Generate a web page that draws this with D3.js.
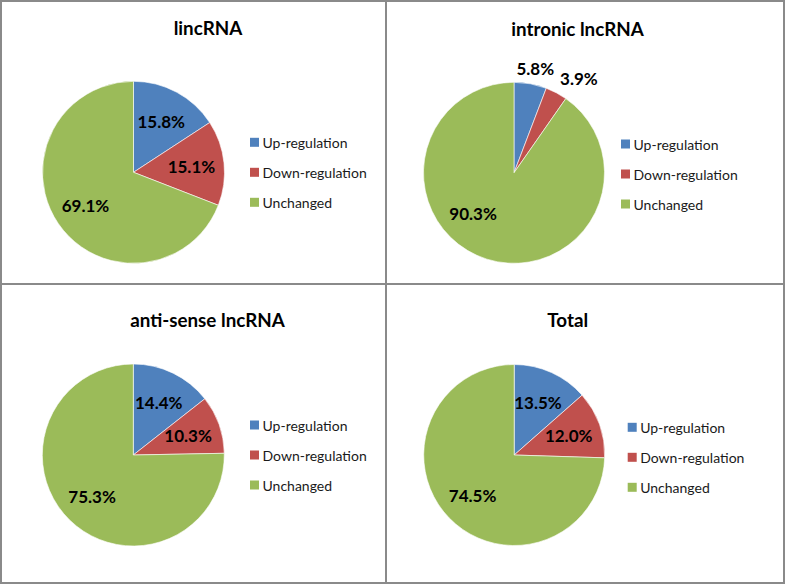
<!DOCTYPE html>
<html>
<head>
<meta charset="utf-8">
<script src="https://cdn.jsdelivr.net/npm/d3@7/dist/d3.min.js"></script>
<style>
  html, body { margin: 0; padding: 0; background: #ffffff; }
  svg { display: block; }
</style>
</head>
<body>
<div id="chart"></div>
<script>
// ---- data ----
const panelTitles = ["lincRNA", "intronic lncRNA", "anti-sense lncRNA", "Total"];
const categories = ["Up-regulation", "Down-regulation", "Unchanged"];
const upValues = [15.8, 5.8, 14.4, 13.5];
const downValues = [15.1, 3.9, 10.3, 12.0];
const unchangedValues = [69.1, 90.3, 75.3, 74.5];

// ---- style / layout ----
const W = 787, H = 585;
const colors = ["#4F81BD", "#C0504D", "#9BBB59"];
const fontFamily = "Lato, 'Open Sans', 'Liberation Sans', sans-serif";
const layout = [
  { cx: 133.5, cy: 172.3, r: 91,   titleX: 208,   titleY: 35,    legX: 250,   legY: 172.3 },
  { cx: 514,   cy: 172.8, r: 90.5, titleX: 577.5, titleY: 36,    legX: 621,   legY: 174 },
  { cx: 133.3, cy: 455,   r: 91,   titleX: 207.5, titleY: 326.7, legX: 250,   legY: 455 },
  { cx: 514.2, cy: 455,   r: 90.5, titleX: 567.7, titleY: 326.7, legX: 627.7, legY: 457.3 }
];

const svg = d3.select("#chart").append("svg")
  .attr("width", W).attr("height", H)
  .attr("viewBox", `0 0 ${W} ${H}`);

svg.append("rect").attr("width", W).attr("height", H).attr("fill", "#fff");

// frame lines
const frame = svg.append("g").attr("stroke", "#8a8a8a").attr("stroke-width", 2).attr("fill", "none");
frame.append("rect").attr("x", 1).attr("y", 1).attr("width", 783).attr("height", 582);
frame.append("line").attr("x1", 386).attr("x2", 386).attr("y1", 1).attr("y2", 583);
frame.append("line").attr("x1", 1).attr("x2", 784).attr("y1", 284).attr("y2", 284);

const colorScale = d3.scaleOrdinal().domain(categories).range(colors);
const pie = d3.pie().sort(null).value(d => d.value);

panelTitles.forEach((title, i) => {
  const L = layout[i];
  const data = [
    { cat: categories[0], value: upValues[i] },
    { cat: categories[1], value: downValues[i] },
    { cat: categories[2], value: unchangedValues[i] }
  ];
  const total = d3.sum(data, d => d.value);
  const arcs = pie(data);
  const arc = d3.arc().innerRadius(0).outerRadius(L.r);

  const g = svg.append("g");

  // title
  g.append("text")
    .attr("x", L.titleX).attr("y", L.titleY)
    .attr("text-anchor", "middle")
    .attr("font-family", fontFamily)
    .attr("font-weight", "bold")
    .attr("font-size", 18.8)
    .attr("fill", "#000")
    .text(title);

  // slices
  const pg = g.append("g").attr("transform", `translate(${L.cx},${L.cy})`);
  pg.selectAll("path").data(arcs).enter().append("path")
    .attr("d", arc)
    .attr("fill", d => colorScale(d.data.cat))
    .attr("stroke", "#ffffff")
    .attr("stroke-width", 0.6);

  // labels
  const placed = [];
  arcs.forEach(a => {
    const frac = a.data.value / total;
    // large slices: centre the label in the part of the slice past 3 o'clock
    const start = frac > 0.5 ? Math.max(a.startAngle, Math.PI / 2) : a.startAngle;
    const mid = (start + a.endAngle) / 2;
    const s = Math.sin(mid), c = Math.cos(mid);
    const t = pg.append("text")
      .attr("text-anchor", "middle")
      .attr("dominant-baseline", "central")
      .attr("font-family", fontFamily)
      .attr("font-weight", "bold")
      .attr("font-size", 17)
      .attr("fill", "#000")
      .text(a.data.value.toFixed(1) + "%");
    const w = t.node().getComputedTextLength();
    const h = 16;
    let x, y;
    if (frac < 0.08) {
      const rr = L.r + 8;
      x = s * rr + s * w / 2;
      y = -c * rr - c * h / 2;
      // avoid overlap with previously placed labels: shift right
      placed.forEach(p => {
        const overlapX = Math.abs(x - p.x) < (w + p.w) / 2 + 6;
        const overlapY = Math.abs(y - p.y) < (h + p.h) / 2;
        if (overlapX && overlapY) x = p.x + p.w / 2 + 6 + w / 2;
      });
    } else {
      const rr = L.r * 0.64;
      x = s * rr;
      y = -c * rr;
    }
    placed.push({ x, y, w, h });
    t.attr("x", x).attr("y", y);
  });

  // legend
  const lg = g.append("g");
  categories.forEach((cat, k) => {
    const yy = L.legY + (k - 1) * 30;
    lg.append("rect")
      .attr("x", L.legX).attr("y", yy - 4.5)
      .attr("width", 9).attr("height", 9)
      .attr("fill", colorScale(cat));
    lg.append("text")
      .attr("x", L.legX + 12.5).attr("y", yy)
      .attr("dominant-baseline", "central")
      .attr("font-family", fontFamily)
      .attr("font-size", 14)
      .attr("fill", "#1a1a1a")
      .text(cat);
  });
});
</script>
</body>
</html>
